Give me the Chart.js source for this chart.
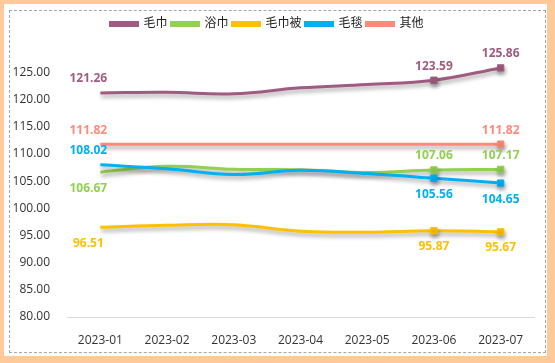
<!DOCTYPE html>
<html lang="zh">
<head>
<meta charset="UTF-8">
<title>价格指数</title>
<script src="https://cdn.jsdelivr.net/npm/chart.js"></script>
<style>
body { margin: 0; padding: 0; background: #ffc999; width: 555px; height: 363px; overflow: hidden; position: relative; }
#paper { position: absolute; left: 4px; top: 4px; width: 543px; height: 352px; background: #fff; }
#dash { position: absolute; left: 9px; top: 10px; width: 535px; height: 341px; border: 1px dashed #a6a6a6; }
canvas { position: absolute; left: 0; top: 0; }
</style>
</head>
<body>
<div id="paper"></div>
<div id="dash"></div>
<canvas id="c" width="555" height="363"></canvas>
<script>
const months = ['2023-01', '2023-02', '2023-03', '2023-04', '2023-05', '2023-06', '2023-07'];
const seriesNames = ['毛巾', '浴巾', '毛巾被', '毛毯', '其他'];
const towel = [121.26, 121.37, 121.1, 122.2, 122.8, 123.59, 125.86];
const bathTowel = [106.67, 107.75, 107.2, 107.1, 106.6, 107.06, 107.17];
const towelQuilt = [96.51, 96.9, 97.0, 95.8, 95.6, 95.87, 95.67];
const blanket = [108.02, 107.3, 106.25, 107.0, 106.4, 105.56, 104.65];
const other = [111.82, 111.82, 111.82, 111.82, 111.82, 111.82, 111.82];
const yTicks = [80, 85, 90, 95, 100, 105, 110, 115, 120, 125];

const font = "'Open Sans', 'Noto Sans CJK SC', sans-serif";
const colors = ['#a05c80', '#92d050', '#ffc000', '#00b0f0', '#ff8a7a'];
const values = [towel, bathTowel, towelQuilt, blanket, other];
// label placement per series: point index -> -1 above, 1 below
const labelSpots = [
  { 0: -1, 5: -1, 6: -1 },
  { 0: 1, 5: -1, 6: -1 },
  { 0: 1, 5: 1, 6: 1 },
  { 0: -1, 5: 1, 6: 1 },
  { 0: -1, 6: -1 }
];

const shadow = {
  id: 'shadow',
  beforeDatasetDraw(chart) {
    const c = chart.ctx;
    c.save();
    c.shadowColor = 'rgba(0,0,0,0.35)';
    c.shadowBlur = 4;
    c.shadowOffsetX = 1;
    c.shadowOffsetY = 3;
  },
  afterDatasetDraw(chart) { chart.ctx.restore(); }
};

const valueLabels = {
  id: 'valueLabels',
  afterDatasetsDraw(chart) {
    const c = chart.ctx;
    c.save();
    c.font = 'bold 12px ' + font;
    c.textAlign = 'center';
    c.textBaseline = 'middle';
    chart.data.datasets.forEach((ds, i) => {
      const meta = chart.getDatasetMeta(i);
      Object.entries(labelSpots[i]).forEach(([idx, side]) => {
        const p = meta.data[idx];
        const dx = idx === '0' ? -12 : 0;
        const dy = side < 0 ? -14 : 16;
        c.fillStyle = ds.borderColor;
        c.fillText(ds.data[idx].toFixed(2), p.x + dx, p.y + dy);
      });
    });
    c.restore();
  }
};

new Chart(document.getElementById('c'), {
  type: 'line',
  data: {
    labels: months,
    datasets: seriesNames.map((name, i) => ({
      label: name,
      data: values[i],
      borderColor: colors[i],
      backgroundColor: colors[i],
      borderWidth: 3,
      tension: 0.4,
      pointStyle: 'rect',
      pointRadius: i === 4 ? [0, 0, 0, 0, 0, 0, 4.5] : [0, 0, 0, 0, 0, 4.5, 4.5],
      pointBorderWidth: 1,
      order: 4 - i
    }))
  },
  options: {
    responsive: false,
    devicePixelRatio: 1,
    animation: false,
    layout: { padding: { top: 14, right: 21, left: 0, bottom: 0 } },
    plugins: {
      tooltip: { enabled: false },
      legend: {
        position: 'top',
        labels: {
          boxWidth: 27, boxHeight: 3, padding: 4, color: '#222',
          font: { size: 12, family: font },
          sort: (a, b) => a.datasetIndex - b.datasetIndex
        }
      }
    },
    scales: {
      x: {
        offset: true,
        grid: { display: false },
        border: { display: true, color: '#d9d9d9', width: 1 },
        ticks: { color: '#333', padding: 8, font: { size: 12, family: font }, maxRotation: 0 },
        afterFit(s) { s.height = 46; }
      },
      y: {
        min: 80,
        max: 131,
        grid: { display: false },
        border: { display: false },
        afterBuildTicks(s) { s.ticks = yTicks.map(v => ({ value: v })); },
        ticks: { color: '#333', padding: 9, font: { size: 12, family: font }, callback: v => v.toFixed(2) },
        afterFit(s) { s.width = 67; }
      }
    }
  },
  plugins: [shadow, valueLabels]
});
</script>
</body>
</html>
